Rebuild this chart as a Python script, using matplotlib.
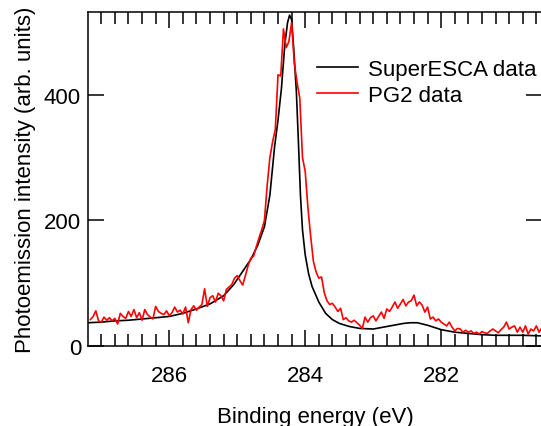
import numpy as np
import matplotlib
matplotlib.use("Agg")
import matplotlib.pyplot as plt
from matplotlib.ticker import MultipleLocator

plt.rcParams['font.family'] = ['Liberation Sans', 'DejaVu Sans']

# SuperESCA spectrum (smooth), binding energy (eV) vs intensity
superesca_energy = [287.20, 287.00, 286.80, 286.60, 286.40, 286.20, 286.00, 285.80,
                    285.60, 285.40, 285.20, 285.05, 284.90, 284.80, 284.70, 284.60,
                    284.52, 284.45, 284.40, 284.35, 284.30, 284.26, 284.23, 284.20,
                    284.17, 284.13, 284.10, 284.07, 284.04, 284.00, 283.95, 283.90,
                    283.80, 283.70, 283.60, 283.50, 283.35, 283.20, 283.00, 282.90,
                    282.70, 282.55, 282.45, 282.35, 282.20, 282.00, 281.80, 281.60,
                    281.40, 281.20, 281.00, 280.80, 280.50]
superesca_counts = [37, 38, 40, 41, 43, 45, 47, 52,
                    59, 67, 80, 98, 122, 138, 160, 190,
                    240, 318, 360, 410, 480, 515, 527, 520,
                    475, 405, 325, 240, 185, 145, 115, 95,
                    70, 52, 42, 36, 31, 28, 27, 29,
                    33, 36, 37, 37, 33, 26, 22, 20,
                    18, 17, 17, 17, 16]

# PG2 spectrum (noisy), sampled every 0.04 eV from 287.16 eV down
pg2_start, pg2_step = 287.16, 0.04
pg2_counts = [42, 47, 56, 40, 38, 46, 41, 45, 40, 44,
              35, 52, 47, 44, 55, 47, 58, 45, 53, 41,
              58, 50, 46, 43, 63, 55, 52, 50, 56, 48,
              53, 62, 54, 57, 51, 62, 37, 58, 64, 57,
              62, 66, 91, 63, 77, 80, 70, 84, 80, 72,
              90, 94, 98, 108, 112, 104, 97, 112, 128, 140,
              143, 158, 172, 185, 200, 255, 300, 325, 345, 432,
              430, 505, 475, 485, 515, 450, 420, 395, 300, 278,
              220, 175, 135, 118, 108, 110, 85, 72, 66, 68,
              62, 55, 60, 42, 45, 40, 38, 41, 37, 33,
              28, 46, 38, 45, 48, 40, 47, 54, 44, 59,
              55, 62, 70, 60, 67, 74, 64, 70, 72, 81,
              64, 70, 65, 54, 62, 43, 46, 40, 43, 38,
              35, 32, 38, 30, 24, 28, 27, 22, 25, 22,
              24, 20, 22, 19, 23, 21, 20, 24, 27, 24,
              21, 26, 30, 38, 27, 30, 32, 22, 30, 22,
              32, 19, 27, 24, 32, 22, 29]
pg2_energy = pg2_start - pg2_step * np.arange(len(pg2_counts))

x_major = [286, 284, 282]
y_major = [0, 200, 400]

fig = plt.figure(figsize=(5.41, 4.27), dpi=100)
ax = fig.add_axes([0.1627, 0.1874, 0.8400, 0.7822])

ax.plot(superesca_energy, superesca_counts, color='black', lw=1.2, label='SuperESCA data')
ax.plot(pg2_energy, pg2_counts, color='#ff0000', lw=1.2, label='PG2 data')

ax.set_xlim(287.195, 280.51)
ax.set_ylim(0, 532)
ax.set_xticks(x_major)
ax.set_yticks(y_major)
ax.xaxis.set_minor_locator(MultipleLocator(0.2))

for s in ['left', 'top', 'bottom', 'right']:
    ax.spines[s].set_linewidth(1.1)
ax.tick_params(axis='x', which='major', direction='in', top=True, length=11.5,
               width=1.1, labelsize=16, pad=14)
ax.tick_params(axis='x', which='minor', direction='in', top=True, length=8.5, width=1.1)
ax.tick_params(axis='y', which='major', direction='in', right=True, length=11.5,
               width=1.1, labelsize=16, pad=5)

ax.set_xlabel('Binding energy (eV)', fontsize=16, labelpad=14)
ax.set_ylabel('Photoemission intensity (arb. units)', fontsize=16, labelpad=6)

ax.legend(loc='upper left', bbox_to_anchor=(317 / 541, 1 - 60 / 427),
          bbox_transform=fig.transFigure, frameon=False, fontsize=16,
          handlelength=1.85, handletextpad=0.45, labelspacing=0.22,
          borderpad=0, borderaxespad=0)

fig.savefig('out.png', dpi=100)
